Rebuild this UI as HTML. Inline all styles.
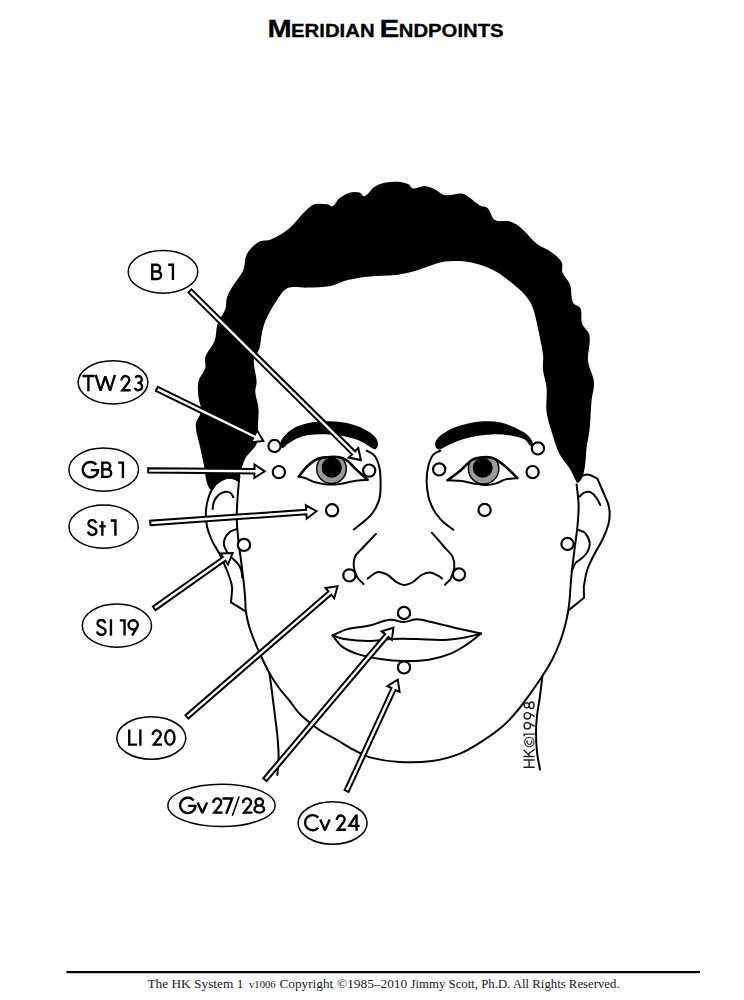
<!DOCTYPE html>
<html><head><meta charset="utf-8"><title>Meridian Endpoints</title>
<style>
html,body{margin:0;padding:0;background:#fff;}
body{width:744px;height:1000px;overflow:hidden;font-family:"Liberation Sans",sans-serif;}
svg{display:block;}
.ln{fill:none;stroke:#000;stroke-width:2.0;stroke-linecap:round;stroke-linejoin:round;}
.pt{fill:#fff;stroke:#000;stroke-width:2.2;}
.lb{fill:#fff;stroke:#000;stroke-width:1.5;}
.ar{fill:#fff;stroke:#000;stroke-width:2.0;stroke-linejoin:miter;}
.tx{font-family:"Liberation Sans",sans-serif;font-size:21px;fill:#000;}
</style></head><body>
<svg width="744" height="1000" viewBox="0 0 744 1000">
<rect width="744" height="1000" fill="#fff"/>
<g font-family="Liberation Sans, sans-serif" font-weight="bold" fill="#000" stroke="#000" stroke-width="0.3"><text x="267.4" y="37.2" font-size="23.5" textLength="24.2" lengthAdjust="spacingAndGlyphs">M</text><text x="291.0" y="37.2" font-size="18" textLength="83.6" lengthAdjust="spacingAndGlyphs">ERIDIAN</text><text x="379.6" y="37.2" font-size="23.5" textLength="19.8" lengthAdjust="spacingAndGlyphs">E</text><text x="398.8" y="37.2" font-size="18" textLength="104.8" lengthAdjust="spacingAndGlyphs">NDPOINTS</text></g>
<path class="ln" d="M239.4 476.0C238.7 484.0 237.9 492.0 237.4 500.0C237.0 506.8 236.6 513.7 236.8 520.5C237.0 527.2 237.7 533.9 238.4 540.6C239.2 547.8 240.3 554.9 241.2 562.0C242.0 568.0 242.7 574.0 243.4 580.0C244.0 585.3 244.6 590.7 245.0 596.0C245.4 601.3 245.3 606.7 246.0 612.0C246.6 616.7 247.7 621.4 249.0 626.0C250.4 630.8 252.2 635.4 254.0 640.0C255.9 644.7 257.9 649.4 260.0 654.0C263.0 660.4 266.0 666.8 269.4 673.0C272.3 678.2 275.5 683.2 279.0 688.0C282.1 692.2 285.7 695.9 289.0 700.0C292.4 704.3 295.3 709.0 299.0 713.0C302.0 716.3 305.5 719.2 309.0 722.0C312.9 725.2 316.8 728.3 321.0 731.0C326.1 734.3 331.7 736.9 337.0 740.0C342.7 743.3 348.2 747.0 354.0 750.0C359.5 752.9 365.0 756.0 371.0 757.6C380.1 760.0 389.6 761.5 399.0 762.0C410.0 762.6 421.1 762.5 432.0 761.0C441.6 759.7 451.0 757.2 460.0 753.6C468.5 750.2 476.3 745.0 484.0 740.0C490.6 735.8 497.1 731.2 503.0 726.0C508.5 721.2 513.3 715.6 518.0 710.0C522.3 704.9 526.1 699.4 530.0 694.0C534.2 688.1 538.4 682.1 542.4 676.0C545.8 670.8 549.1 665.5 552.0 660.0C555.0 654.2 557.7 648.1 560.0 642.0C562.0 636.8 563.6 631.4 565.0 626.0C566.2 621.4 567.2 616.7 568.0 612.0C568.7 608.0 569.2 604.0 569.6 600.0C570.2 593.3 570.4 586.7 571.0 580.0C571.4 575.0 572.0 570.0 572.6 565.0C573.2 559.6 573.9 554.3 574.6 548.9C575.6 540.8 576.9 532.8 577.6 524.7C578.2 518.0 578.8 511.2 578.6 504.5C578.4 497.8 577.3 491.1 576.6 484.4"/>
<path class="ln" d="M269.4 673.0C270.3 679.3 271.2 685.7 272.0 692.0C273.0 700.0 274.0 708.0 275.0 716.0C275.8 722.7 276.8 729.3 277.4 736.0C278.0 742.7 278.6 749.3 278.6 756.0C278.6 762.3 277.8 768.7 277.4 775.0"/>
<path class="ln" d="M542.4 676.0C541.6 682.7 540.9 689.3 540.0 696.0C539.1 702.7 537.7 709.3 537.0 716.0C536.4 721.3 536.0 726.7 536.0 732.0C536.0 738.7 536.3 745.4 537.0 752.0C537.6 757.9 539.0 763.7 540.0 769.6"/>
<path class="ln" d="M238.0 480.0C236.7 479.4 235.4 478.4 234.0 478.2C231.5 477.8 228.7 477.2 226.3 478.0C222.5 479.2 218.8 481.1 216.0 484.0C212.8 487.3 210.6 491.7 209.0 496.0C207.3 500.6 206.3 505.5 206.0 510.4C205.6 515.8 206.0 521.2 207.0 526.5C208.0 531.4 209.9 536.1 212.0 540.6C214.3 545.5 217.5 550.0 220.0 554.8C222.3 559.4 224.3 564.2 226.3 568.9C227.4 571.4 228.3 573.9 229.2 576.5C230.0 578.6 230.7 580.8 231.3 583.0C231.8 584.8 231.9 586.7 232.2 588.5L231 602.4L245.3 611.2"/>
<path class="ln" d="M212.6 509.0C213.1 506.3 213.1 503.5 214.2 501.0C215.3 498.6 216.9 496.3 219.0 494.6C220.8 493.1 223.1 492.0 225.4 491.7C227.2 491.5 229.1 492.0 230.6 493.0C232.0 494.0 232.5 495.8 233.4 497.2"/>
<path class="ln" d="M236.8 528.9C234.4 530.0 231.7 530.5 229.6 532.1C227.5 533.8 225.9 536.1 224.8 538.5C223.9 540.5 223.8 542.8 224.0 544.9C224.2 546.9 225.3 548.7 226.2 550.5C227.1 552.3 228.2 554.0 229.5 555.5C230.6 556.9 232.1 558.0 233.4 559.3C235.0 560.9 236.9 562.3 238.2 564.1C239.6 566.0 240.6 568.2 241.3 570.5C242.0 572.8 242.0 575.2 242.3 577.5"/>
<path class="ln" d="M578.0 481.0C579.2 479.4 579.8 477.3 581.5 476.3C583.6 475.1 586.3 474.3 588.7 474.7C591.8 475.2 594.5 477.3 597.4 478.6L608.3 504"/>
<path class="ln" d="M608.3 504.0C608.8 507.0 609.7 510.0 609.7 513.0C609.7 516.7 609.4 520.4 608.5 524.0C607.2 529.0 605.2 533.8 603.0 538.5C600.2 544.5 596.4 550.0 593.4 556.0C591.0 560.7 588.6 565.5 587.0 570.5C585.4 575.7 584.9 581.2 583.8 586.5L584 597.7L569.4 609.6"/>
<path class="ln" d="M579.6 496.5C581.3 495.1 582.6 493.0 584.7 492.4C586.9 491.7 589.6 491.7 591.7 492.8C594.0 493.9 595.3 496.4 596.8 498.5C598.2 500.5 599.2 502.8 600.4 505.0"/>
<path class="ln" d="M577.6 529.7C580.0 530.7 583.0 530.8 584.7 532.7C587.2 535.5 589.3 539.1 589.7 542.8C590.0 546.3 588.5 549.9 586.7 552.9C585.0 555.8 582.1 557.7 579.6 560.0C578.4 561.1 576.6 561.7 575.6 563.0C573.8 565.4 572.9 568.3 571.6 571.0"/>
<path class="ln" d="M366.8 450.6C369.5 452.4 372.9 453.4 374.8 456.0C377.3 459.5 378.6 463.8 379.5 468.0C380.5 472.8 380.5 477.7 380.6 482.6C380.6 487.4 380.7 492.3 379.8 497.0C379.2 500.5 377.8 503.9 376.2 507.0C374.5 510.2 372.6 513.4 370.0 516.0C365.1 521.0 359.3 525.0 353.9 529.5"/>
<path class="ln" d="M440.3 450.6C437.9 452.1 434.7 452.7 433.0 455.0C430.5 458.3 429.2 462.5 428.2 466.5C427.0 471.2 426.6 476.1 426.6 481.0C426.7 486.4 427.4 491.7 428.5 497.0C429.1 499.9 430.3 502.8 431.5 505.5C432.7 508.1 434.0 510.7 435.6 513.0C437.9 516.2 440.3 519.3 443.2 522.0C446.3 524.9 450.0 527.2 453.4 529.8"/>
<path class="ln" d="M376.0 533.9C371.8 538.3 367.6 542.5 363.5 547.0C360.6 550.2 356.8 553.0 355.0 556.9C353.5 560.2 353.5 564.1 353.9 567.7C354.3 571.1 355.7 574.4 357.5 577.4C359.0 580.0 361.5 581.8 363.5 584.0"/>
<path class="ln" d="M431.8 532.7C435.7 537.1 439.6 541.5 443.4 546.0C446.5 549.6 450.5 552.7 452.6 556.9C454.2 560.2 454.6 564.1 454.3 567.7C454.0 571.5 452.5 575.2 450.7 578.6C449.4 581.0 446.9 582.7 445.0 584.7"/>
<path class="ln" d="M367.7 578.6C371.1 576.4 374.0 572.7 378.0 572.0C381.3 571.4 384.7 573.4 387.7 575.0C391.3 577.0 393.8 580.6 397.4 582.7C399.6 584.0 402.2 585.1 404.7 585.0C407.6 584.9 410.5 583.5 413.0 582.0C416.2 580.1 418.4 576.8 421.6 575.0C424.1 573.6 427.1 572.4 430.0 572.6C433.1 572.8 435.8 574.6 438.6 576.0C439.9 576.6 440.9 577.7 442.0 578.6"/>
<path class="ln" d="M332.6 635.5C337.3 633.5 341.7 630.7 346.6 629.4C353.7 627.5 361.2 627.4 368.4 625.8C375.7 624.2 382.6 620.6 390.0 619.8C394.7 619.3 399.3 622.1 404.0 622.0C408.4 621.9 412.4 619.3 416.8 619.3C421.6 619.3 426.3 620.9 431.0 622.0C439.2 623.8 447.3 626.1 455.5 628.0C464.0 629.9 472.5 631.7 481.0 633.5"/>
<path class="ln" d="M332.6 635.5C336.4 636.7 340.1 638.4 344.0 639.0C352.1 640.2 360.2 641.0 368.4 641.0C376.5 641.0 384.5 639.3 392.6 639.0C400.7 638.7 408.7 638.9 416.8 639.0C425.7 639.2 434.5 640.2 443.4 639.9C450.6 639.7 457.9 638.6 465.0 637.4C470.4 636.5 475.7 634.8 481.0 633.5"/>
<path class="ln" d="M332.6 635.5C335.7 639.1 338.0 643.5 341.8 646.4C346.1 649.7 351.2 651.9 356.3 653.6C364.2 656.2 372.3 657.7 380.5 659.0C388.3 660.2 396.1 660.9 404.0 661.0C412.3 661.1 420.7 661.0 428.9 659.7C436.4 658.5 443.7 656.4 450.7 653.6C456.7 651.2 462.2 647.6 467.6 644.0C472.3 640.9 476.5 637.0 481.0 633.5"/>
<path d="M213.4 486.8C212.4 487.6 211.7 490.3 210.7 489.5C208.3 487.6 207.4 484.3 206.6 481.4C205.1 476.1 204.9 470.4 203.9 465.0C202.7 458.7 201.2 452.5 199.9 446.2C198.5 439.0 195.5 431.9 195.8 424.6C196.0 419.7 200.7 415.9 201.2 411.0C201.7 406.5 198.9 402.1 198.5 397.6C198.0 392.2 197.3 386.7 198.5 381.4C199.6 376.5 203.9 372.7 205.3 367.8C206.3 364.3 204.1 360.4 205.3 357.0C207.4 351.1 212.5 346.6 214.7 340.8C216.6 335.7 215.7 329.8 217.4 324.6C219.3 318.9 223.5 314.1 225.5 308.4C226.7 305.0 225.8 301.1 226.9 297.6C228.1 293.8 230.2 290.3 232.3 286.8C235.6 281.2 240.4 276.4 243.1 270.5C245.4 265.3 244.3 259.0 247.0 254.0C249.6 249.2 253.6 245.0 258.3 242.2C261.9 240.0 266.9 241.3 270.8 239.6C277.2 236.8 283.4 233.3 288.8 228.8C297.3 221.7 302.9 211.2 312.3 205.3C316.6 202.6 322.4 204.1 327.4 204.3C329.2 204.4 330.9 207.1 332.5 206.3C335.6 204.8 336.5 200.7 339.2 198.6C342.2 196.2 345.6 193.9 349.3 192.8C352.5 191.8 356.1 191.8 359.4 192.5C361.4 193.0 362.5 196.9 364.4 196.2C368.7 194.6 370.7 189.3 374.5 186.8C377.5 184.8 381.1 183.6 384.6 182.8C389.0 181.9 393.5 181.6 398.0 181.8C401.4 182.0 404.9 182.7 408.1 184.1C410.1 185.0 410.9 188.2 413.1 188.5C417.1 189.0 420.9 185.9 424.9 186.1C428.4 186.3 431.8 188.0 435.0 189.5C438.5 191.1 441.2 194.6 445.0 195.2C450.6 196.0 456.3 193.1 461.9 193.5C464.4 193.7 466.5 195.5 468.6 196.9C472.6 199.5 475.9 203.1 480.0 205.5C482.3 206.8 485.6 206.2 487.5 208.0C490.9 211.3 491.0 217.6 495.0 220.0C499.3 222.6 505.2 220.1 510.0 221.5C513.9 222.6 517.4 224.9 520.5 227.5C526.5 232.5 530.9 239.1 537.0 244.0C541.0 247.2 546.3 248.5 550.5 251.5C554.6 254.5 559.1 257.6 561.6 262.0C563.3 265.0 561.3 269.2 562.5 272.5C564.1 276.9 568.4 280.0 570.0 284.5C572.0 290.2 570.6 296.9 573.0 302.5C574.3 305.4 579.2 305.6 580.5 308.5C582.5 313.1 580.4 318.7 582.0 323.5C583.5 328.0 588.8 330.8 589.5 335.5C590.8 343.9 587.2 352.5 588.0 361.0C588.7 368.2 593.3 374.8 594.0 382.0C594.6 388.0 592.2 394.0 591.6 400.0C590.7 410.0 590.6 420.0 589.5 430.0C588.9 436.0 587.3 442.0 586.5 448.0C585.8 454.0 585.9 460.0 585.0 466.0C584.4 470.1 583.7 474.2 582.0 478.0C581.1 480.1 579.5 482.0 577.5 483.0C576.8 483.4 576.4 481.7 576.0 481.0C573.9 477.1 572.3 472.8 570.0 469.0C566.8 463.8 562.2 459.5 559.5 454.0C556.2 447.4 554.2 440.1 552.0 433.0C549.9 426.1 547.5 419.2 546.6 412.0C545.6 404.1 547.3 396.0 546.6 388.0C546.1 381.9 543.7 376.1 543.0 370.0C542.5 365.0 543.6 360.0 543.0 355.0C542.1 346.9 540.2 339.0 538.5 331.0C536.7 322.9 535.4 314.7 532.5 307.0C530.8 302.6 528.1 298.5 525.0 295.0C520.5 290.0 515.3 285.7 510.0 281.5C505.2 277.7 500.3 274.0 495.0 271.0C490.3 268.4 485.1 266.5 480.0 264.8C475.2 263.2 470.2 261.9 465.2 261.4C458.5 260.7 451.7 260.8 445.0 261.4C441.6 261.7 438.3 263.0 435.0 264.1C429.3 265.9 423.9 268.4 418.2 270.1C411.6 272.0 404.9 273.9 398.0 274.8C386.9 276.2 375.6 275.6 364.4 276.9C357.6 277.7 350.8 279.1 344.2 280.9C339.6 282.1 335.5 285.1 330.8 286.0C323.1 287.4 315.1 287.2 307.3 287.6C300.8 287.9 293.7 285.6 287.7 288.1C282.7 290.2 280.0 295.8 276.9 300.3C272.8 306.3 269.1 312.6 266.1 319.2C264.1 323.5 263.0 328.1 262.0 332.7C260.8 338.0 260.9 343.7 259.3 348.9C258.1 352.8 254.2 355.7 253.9 359.7C253.3 367.0 256.3 374.1 256.6 381.4C256.8 385.0 255.0 388.6 255.3 392.2C255.7 397.7 258.0 402.9 258.5 408.4C258.9 413.8 258.1 419.2 258.0 424.6C257.9 427.7 258.0 430.9 257.8 434.0C257.6 437.3 257.8 440.9 256.6 444.0C255.6 446.7 253.2 448.7 251.4 451.0C249.7 453.1 247.6 454.9 246.1 457.1C245.1 458.6 244.4 460.3 243.7 462.0C243.1 463.6 242.6 465.2 242.1 466.8C241.3 469.3 240.7 471.9 240.0 474.4C239.4 476.7 239.8 479.5 238.2 481.3C237.4 482.2 236.1 480.3 235.0 480.0C232.8 479.4 230.5 478.4 228.2 478.6C225.4 478.9 222.6 480.0 220.1 481.4C217.6 482.8 215.6 484.9 213.4 486.8Z" fill="#000"/>
<path d="M280.5 442.3C281.4 439.2 283.7 436.5 286.0 434.2C288.9 431.3 292.2 428.8 295.8 427.0C299.8 425.0 304.3 423.8 308.7 422.9C314.0 421.9 319.4 421.5 324.8 421.3C330.2 421.1 335.7 421.2 341.0 422.0C346.4 422.8 351.8 424.1 357.0 426.0C361.6 427.7 366.0 429.9 370.0 432.6C372.5 434.3 374.8 436.5 376.5 439.0C377.6 440.6 378.0 442.7 377.9 444.7C377.8 446.3 377.0 447.9 375.8 448.9C375.1 449.5 373.8 449.1 373.0 448.7C370.8 447.7 368.9 445.9 366.8 444.7C363.6 442.9 360.5 441.0 357.0 439.8C351.8 438.0 346.4 436.7 341.0 435.8C335.7 434.9 330.2 434.3 324.8 434.2C319.4 434.1 314.0 434.2 308.7 435.0C304.8 435.6 301.0 436.7 297.4 438.2C293.9 439.7 290.9 441.9 287.7 443.9C285.7 445.1 284.3 448.4 282.0 447.9C280.1 447.5 280.0 444.2 280.5 442.3Z" fill="#000"/>
<path d="M435.2 444.7C435.1 443.5 435.2 442.1 435.8 441.0C437.2 438.7 438.9 436.6 441.0 435.0C444.5 432.4 448.4 430.2 452.4 428.5C457.1 426.5 462.0 424.8 467.0 423.7C472.8 422.4 478.7 421.5 484.7 421.3C490.1 421.1 495.5 421.5 500.8 422.6C505.8 423.6 510.6 425.6 515.3 427.7C519.3 429.5 523.2 431.5 526.6 434.2C529.0 436.1 531.1 438.6 532.3 441.5C532.9 443.0 533.1 446.7 531.5 446.3C528.5 445.6 527.7 441.3 525.0 439.8C521.0 437.7 516.5 436.7 512.0 435.8C506.7 434.8 501.4 434.2 496.0 434.2C490.6 434.1 485.2 434.7 479.8 435.5C474.4 436.3 469.0 437.4 463.7 439.0C458.7 440.5 454.0 442.6 449.2 444.7C445.9 446.1 443.0 448.6 439.5 449.5C438.3 449.8 437.0 448.9 436.2 448.0C435.4 447.1 435.3 445.8 435.2 444.7Z" fill="#000"/>
<defs><clipPath id="eL"><path d="M298.7 476.6C301.5 473.2 303.9 469.5 307.0 466.5C309.9 463.7 313.1 460.9 316.8 459.2C319.8 457.8 323.2 457.6 326.5 457.3C330.8 456.9 335.2 456.6 339.4 457.3C342.3 457.8 345.0 459.1 347.4 460.8C350.5 463.0 352.7 466.3 355.5 468.9C359.4 472.6 363.6 476.1 367.6 479.7L367.6 479.7C365.2 479.9 362.7 479.9 360.3 480.2C357.0 480.6 353.8 481.2 350.6 481.8C346.3 482.6 342.1 483.8 337.7 484.2C333.4 484.6 329.1 484.6 324.8 484.2C321.0 483.8 317.2 482.9 313.5 481.8C311.0 481.0 308.8 479.4 306.3 478.5C303.8 477.6 301.2 477.2 298.7 476.6Z"/></clipPath></defs>
<g clip-path="url(#eL)"><circle cx="331.5" cy="468.7" r="14.8" fill="#9a9a9a" stroke="#000" stroke-width="1.5"/><circle cx="331.7" cy="467.7" r="10.1" fill="#000"/></g>
<path d="M298.7 476.6C301.5 473.2 303.9 469.5 307.0 466.5C309.9 463.7 313.1 460.9 316.8 459.2C319.8 457.8 323.2 457.6 326.5 457.3C330.8 456.9 335.2 456.6 339.4 457.3C342.3 457.8 345.0 459.1 347.4 460.8C350.5 463.0 352.7 466.3 355.5 468.9C359.4 472.6 363.6 476.1 367.6 479.7" fill="none" stroke="#000" stroke-width="2.6" stroke-linecap="round" stroke-linejoin="round"/>
<path class="ln" d="M298.7 476.6C301.2 477.2 303.8 477.6 306.3 478.5C308.8 479.4 311.0 481.0 313.5 481.8C317.2 482.9 321.0 483.8 324.8 484.2C329.1 484.6 333.4 484.6 337.7 484.2C342.1 483.8 346.3 482.6 350.6 481.8C353.8 481.2 357.0 480.6 360.3 480.2C362.7 479.9 365.2 479.9 367.6 479.7"/>
<defs><clipPath id="eR"><path d="M447.6 480.2C451.9 477.0 456.4 473.9 460.5 470.5C464.4 467.2 467.5 462.9 471.8 460.0C474.1 458.5 477.0 457.9 479.8 457.6C483.5 457.1 487.3 456.8 491.0 457.6C494.0 458.2 496.7 459.9 499.2 461.6C502.7 464.0 505.8 466.9 508.9 469.7C511.8 472.3 514.5 475.2 517.3 478.0L517.3 478.0C513.4 478.5 509.4 478.4 505.6 479.4C502.2 480.3 499.3 482.4 496.0 483.4C492.9 484.3 489.6 485.0 486.3 485.0C482.0 485.0 477.7 484.1 473.4 483.4C469.6 482.8 465.9 481.5 462.0 481.0C457.2 480.4 452.4 480.5 447.6 480.2Z"/></clipPath></defs>
<g clip-path="url(#eR)"><circle cx="483.6" cy="468.8" r="15.2" fill="#9a9a9a" stroke="#000" stroke-width="1.5"/><circle cx="482.7" cy="467.8" r="9.9" fill="#000"/></g>
<path d="M447.6 480.2C451.9 477.0 456.4 473.9 460.5 470.5C464.4 467.2 467.5 462.9 471.8 460.0C474.1 458.5 477.0 457.9 479.8 457.6C483.5 457.1 487.3 456.8 491.0 457.6C494.0 458.2 496.7 459.9 499.2 461.6C502.7 464.0 505.8 466.9 508.9 469.7C511.8 472.3 514.5 475.2 517.3 478.0" fill="none" stroke="#000" stroke-width="2.6" stroke-linecap="round" stroke-linejoin="round"/>
<path class="ln" d="M447.6 480.2C452.4 480.5 457.2 480.4 462.0 481.0C465.9 481.5 469.6 482.8 473.4 483.4C477.7 484.1 482.0 485.0 486.3 485.0C489.6 485.0 492.9 484.3 496.0 483.4C499.3 482.4 502.2 480.3 505.6 479.4C509.4 478.4 513.4 478.5 517.3 478.0"/>
<circle class="pt" cx="274.5" cy="446.0" r="6.1"/>
<circle class="pt" cx="278.9" cy="472.1" r="6.1"/>
<circle class="pt" cx="369.2" cy="470.6" r="6.1"/>
<circle class="pt" cx="332.1" cy="510.3" r="6.1"/>
<circle class="pt" cx="244.0" cy="544.9" r="6.1"/>
<circle class="pt" cx="349.4" cy="575.4" r="6.1"/>
<circle class="pt" cx="404.0" cy="613.0" r="6.1"/>
<circle class="pt" cx="404.0" cy="667.4" r="6.1"/>
<circle class="pt" cx="439.2" cy="469.4" r="6.1"/>
<circle class="pt" cx="537.9" cy="448.4" r="6.1"/>
<circle class="pt" cx="532.6" cy="472.1" r="6.1"/>
<circle class="pt" cx="484.6" cy="510.0" r="6.1"/>
<circle class="pt" cx="567.5" cy="544.0" r="6.1"/>
<circle class="pt" cx="459.0" cy="574.5" r="6.1"/>
<path class="ar" d="M188.5 292.6L352.0 454.4L348.8 457.6L360.9 460.1L358.3 448.1L355.1 451.3L191.5 289.4Z"/>
<path class="ar" d="M155.8 390.8L253.1 438.3L251.1 442.4L263.3 440.9L257.0 430.3L255.0 434.4L157.8 386.8Z"/>
<path class="ar" d="M148.2 472.6L254.4 473.4L254.4 477.9L264.7 471.3L254.5 464.5L254.5 469.0L148.2 468.2Z"/>
<path class="ar" d="M150.5 525.2L306.4 514.2L306.7 518.6L316.5 511.2L305.8 505.3L306.1 509.8L150.1 520.8Z"/>
<path class="ar" d="M155.5 610.1L225.4 560.7L228.0 564.4L232.6 553.0L220.3 553.4L222.9 557.1L152.9 606.5Z"/>
<path class="ar" d="M188.3 718.6L331.3 594.7L334.2 598.1L337.6 586.3L325.4 588.0L328.4 591.4L185.5 715.2Z"/>
<path class="ar" d="M266.6 781.1L388.4 637.0L391.9 639.9L393.4 627.7L381.6 631.3L385.1 634.2L263.2 778.3Z"/>
<path class="ar" d="M348.6 791.9L395.5 690.0L399.6 691.8L397.8 679.7L387.4 686.2L391.5 688.1L344.6 790.1Z"/>
<ellipse class="lb" cx="163.0" cy="271.8" rx="34.8" ry="21.4"/>
<ellipse class="lb" cx="113.0" cy="382.3" rx="34.9" ry="21.6"/>
<ellipse class="lb" cx="103.7" cy="469.7" rx="34.8" ry="21.6"/>
<ellipse class="lb" cx="103.6" cy="526.7" rx="34.6" ry="21.6"/>
<ellipse class="lb" cx="116.9" cy="625.7" rx="34.6" ry="21.6"/>
<ellipse class="lb" cx="151.3" cy="738.0" rx="34.5" ry="21.2"/>
<ellipse class="lb" cx="221.5" cy="805.4" rx="53.6" ry="21.2"/>
<ellipse class="lb" cx="332.6" cy="823.0" rx="34.5" ry="21.2"/>
<path transform="translate(151.20,263.70) scale(0.1630)" d="M6.5 48H34A20.75 20.75 0 0 0 34 6.5H6.5V93.5H38A22.75 22.75 0 0 0 38 48H6.5" fill="none" stroke="#000" stroke-width="14.6" stroke-linejoin="miter" stroke-linecap="butt"/>
<path transform="translate(168.20,263.70) scale(0.1630)" d="M0 6.5H29V100" fill="none" stroke="#000" stroke-width="14.6" stroke-linejoin="miter" stroke-linecap="butt"/>
<path transform="translate(82.30,375.00) scale(0.1630)" d="M0 6.5H75M37.5 6.5V100" fill="none" stroke="#000" stroke-width="14.6" stroke-linejoin="miter" stroke-linecap="butt"/>
<path transform="translate(94.90,375.00) scale(0.1630)" d="M5 -1L35 96L64 9L93 96L123 -1" fill="none" stroke="#000" stroke-width="14.6" stroke-linejoin="bevel" stroke-linecap="butt"/>
<path transform="translate(120.20,375.00) scale(0.1630)" d="M8.5 34A24 24 0 1 1 51.1 45.1L14 93.5H64" fill="none" stroke="#000" stroke-width="14.6" stroke-linejoin="miter" stroke-linecap="butt"/>
<path transform="translate(133.60,375.00) scale(0.1630)" d="M11 17A21 21 0 1 1 30 48.5H23M30 48.5A22.5 22.5 0 1 1 8.5 79" fill="none" stroke="#000" stroke-width="14.6" stroke-linejoin="miter" stroke-linecap="butt"/>
<path transform="translate(81.70,461.60) scale(0.1630)" d="M89.5 19A47 47 0 1 0 100.5 52H56" fill="none" stroke="#000" stroke-width="14.6" stroke-linejoin="miter" stroke-linecap="butt"/>
<path transform="translate(101.30,461.60) scale(0.1630)" d="M6.5 48H34A20.75 20.75 0 0 0 34 6.5H6.5V93.5H38A22.75 22.75 0 0 0 38 48H6.5" fill="none" stroke="#000" stroke-width="14.6" stroke-linejoin="miter" stroke-linecap="butt"/>
<path transform="translate(118.20,461.60) scale(0.1630)" d="M0 6.5H29V100" fill="none" stroke="#000" stroke-width="14.6" stroke-linejoin="miter" stroke-linecap="butt"/>
<path transform="translate(87.00,519.40) scale(0.1630)" d="M56 23C52 11 44 4.5 33 4.5C18 4.5 9 14 9 26C9 40 20 44 33 49C48 54 58 60 58 73C58 86 47 95.5 33 95.5C19 95.5 9 88 6.5 75" fill="none" stroke="#000" stroke-width="14.6" stroke-linejoin="miter" stroke-linecap="butt"/>
<path transform="translate(99.40,519.40) scale(0.1630)" d="M18 12V100M0 42H38" fill="none" stroke="#000" stroke-width="14.6" stroke-linejoin="miter" stroke-linecap="butt"/>
<path transform="translate(110.70,519.40) scale(0.1630)" d="M0 6.5H29V100" fill="none" stroke="#000" stroke-width="14.6" stroke-linejoin="miter" stroke-linecap="butt"/>
<path transform="translate(96.10,619.30) scale(0.1630)" d="M56 23C52 11 44 4.5 33 4.5C18 4.5 9 14 9 26C9 40 20 44 33 49C48 54 58 60 58 73C58 86 47 95.5 33 95.5C19 95.5 9 88 6.5 75" fill="none" stroke="#000" stroke-width="14.6" stroke-linejoin="miter" stroke-linecap="butt"/>
<path transform="translate(109.80,619.30) scale(0.1630)" d="M7 0V100" fill="none" stroke="#000" stroke-width="14.6" stroke-linejoin="miter" stroke-linecap="butt"/>
<path transform="translate(119.80,619.30) scale(0.1630)" d="M0 6.5H29V100" fill="none" stroke="#000" stroke-width="14.6" stroke-linejoin="miter" stroke-linecap="butt"/>
<path transform="translate(127.50,619.30) scale(0.1630)" d="M63.5 34A28.5 28.5 0 1 1 6.5 34A28.5 28.5 0 1 1 63.5 34ZM58.5 50L28 100" fill="none" stroke="#000" stroke-width="14.6" stroke-linejoin="miter" stroke-linecap="butt"/>
<path transform="translate(128.20,729.40) scale(0.1630)" d="M6.5 0V93.5H54" fill="none" stroke="#000" stroke-width="14.6" stroke-linejoin="miter" stroke-linecap="butt"/>
<path transform="translate(139.20,729.40) scale(0.1630)" d="M7 0V100" fill="none" stroke="#000" stroke-width="14.6" stroke-linejoin="miter" stroke-linecap="butt"/>
<path transform="translate(151.60,729.40) scale(0.1630)" d="M8.5 34A24 24 0 1 1 51.1 45.1L14 93.5H64" fill="none" stroke="#000" stroke-width="14.6" stroke-linejoin="miter" stroke-linecap="butt"/>
<path transform="translate(164.20,729.40) scale(0.1630)" d="M63.5 50A28.5 45 0 1 1 6.5 50A28.5 45 0 1 1 63.5 50Z" fill="none" stroke="#000" stroke-width="14.6" stroke-linejoin="miter" stroke-linecap="butt"/>
<path transform="translate(179.10,797.40) scale(0.1630)" d="M89.5 19A47 47 0 1 0 100.5 52H56" fill="none" stroke="#000" stroke-width="14.6" stroke-linejoin="miter" stroke-linecap="butt"/>
<path transform="translate(196.80,797.40) scale(0.1630)" d="M5 31L34 96L63 31" fill="none" stroke="#000" stroke-width="14.6" stroke-linejoin="bevel" stroke-linecap="butt"/>
<path transform="translate(212.10,797.40) scale(0.1630)" d="M8.5 34A24 24 0 1 1 51.1 45.1L14 93.5H64" fill="none" stroke="#000" stroke-width="14.6" stroke-linejoin="miter" stroke-linecap="butt"/>
<path transform="translate(222.40,797.40) scale(0.1630)" d="M0 6.5H60L23 100" fill="none" stroke="#000" stroke-width="14.6" stroke-linejoin="miter" stroke-linecap="butt"/>
<path transform="translate(231.50,797.40) scale(0.1630)" d="M47 -6L5 113" fill="none" stroke="#000" stroke-width="9.5" stroke-linejoin="miter" stroke-linecap="butt"/>
<path transform="translate(241.90,797.40) scale(0.1630)" d="M8.5 34A24 24 0 1 1 51.1 45.1L14 93.5H64" fill="none" stroke="#000" stroke-width="14.6" stroke-linejoin="miter" stroke-linecap="butt"/>
<path transform="translate(253.40,797.40) scale(0.1630)" d="M59 28.5A23 22 0 1 1 13 28.5A23 22 0 1 1 59 28.5ZM65.5 72A29.5 21.5 0 1 1 6.5 72A29.5 21.5 0 1 1 65.5 72Z" fill="none" stroke="#000" stroke-width="14.6" stroke-linejoin="miter" stroke-linecap="butt"/>
<path transform="translate(304.00,814.50) scale(0.1630)" d="M87.6 18.9A46.5 46.5 0 1 0 87.6 81.1" fill="none" stroke="#000" stroke-width="14.6" stroke-linejoin="miter" stroke-linecap="butt"/>
<path transform="translate(319.40,814.50) scale(0.1630)" d="M5 31L34 96L63 31" fill="none" stroke="#000" stroke-width="14.6" stroke-linejoin="bevel" stroke-linecap="butt"/>
<path transform="translate(335.50,814.50) scale(0.1630)" d="M8.5 34A24 24 0 1 1 51.1 45.1L14 93.5H64" fill="none" stroke="#000" stroke-width="14.6" stroke-linejoin="miter" stroke-linecap="butt"/>
<path transform="translate(347.90,814.50) scale(0.1630)" d="M72 70H8L50 5M53 0V100" fill="none" stroke="#000" stroke-width="14.6" stroke-linejoin="miter" stroke-linecap="butt"/>
<path transform="translate(534.7,767.90) rotate(-90) scale(0.1120) translate(0,-100)" d="M6 0V100M70 0V100M6 50H70" fill="none" stroke="#222" stroke-width="12.5" stroke-linejoin="miter"/>
<path transform="translate(534.7,757.10) rotate(-90) scale(0.1120) translate(0,-100)" d="M6 0V100M66 0L8 60M27 42L70 100" fill="none" stroke="#222" stroke-width="12.5" stroke-linejoin="miter"/>
<path transform="translate(534.7,747.20) rotate(-90) scale(0.1120) translate(0,-100)" d="M88 52A42 42 0 1 1 4 52A42 42 0 1 1 88 52Z" fill="none" stroke="#222" stroke-width="9.0" stroke-linejoin="miter"/>
<path transform="translate(534.7,747.20) rotate(-90) scale(0.1120) translate(0,-100)" d="M60.5 36.5A21 21 0 1 0 60.5 67.5" fill="none" stroke="#222" stroke-width="10.0" stroke-linejoin="miter"/>
<path transform="translate(534.7,737.35) rotate(-90) scale(0.1120) translate(0,-100)" d="M10 6.5H29V100" fill="none" stroke="#222" stroke-width="12.5" stroke-linejoin="miter"/>
<path transform="translate(534.7,729.60) rotate(-90) scale(0.1120) translate(0,-100)" d="M63.5 34A28.5 28.5 0 1 1 6.5 34A28.5 28.5 0 1 1 63.5 34ZM58.5 50L28 100" fill="none" stroke="#222" stroke-width="12.5" stroke-linejoin="miter"/>
<path transform="translate(534.7,719.70) rotate(-90) scale(0.1120) translate(0,-100)" d="M63.5 34A28.5 28.5 0 1 1 6.5 34A28.5 28.5 0 1 1 63.5 34ZM58.5 50L28 100" fill="none" stroke="#222" stroke-width="12.5" stroke-linejoin="miter"/>
<path transform="translate(534.7,709.40) rotate(-90) scale(0.1120) translate(0,-100)" d="M59 28.5A23 22 0 1 1 13 28.5A23 22 0 1 1 59 28.5ZM65.5 72A29.5 21.5 0 1 1 6.5 72A29.5 21.5 0 1 1 65.5 72Z" fill="none" stroke="#222" stroke-width="12.5" stroke-linejoin="miter"/>
<rect x="66.5" y="971" width="633.5" height="2.2" fill="#000"/>
<g font-family="Liberation Serif, serif" font-size="13.2" fill="#1a1a1a"><text x="147.4" y="987.9" textLength="96" lengthAdjust="spacingAndGlyphs">The HK System 1</text><text x="249" y="987.9" font-size="10.4" textLength="26.6" lengthAdjust="spacingAndGlyphs">v1006</text><text x="279.5" y="987.9" textLength="53.7" lengthAdjust="spacingAndGlyphs">Copyright</text><text x="337" y="987.9" textLength="70.2" lengthAdjust="spacingAndGlyphs">©1985–2010</text><text x="410.6" y="987.9" textLength="209" lengthAdjust="spacingAndGlyphs">Jimmy Scott, Ph.D. All Rights Reserved.</text></g>
</svg></body></html>
